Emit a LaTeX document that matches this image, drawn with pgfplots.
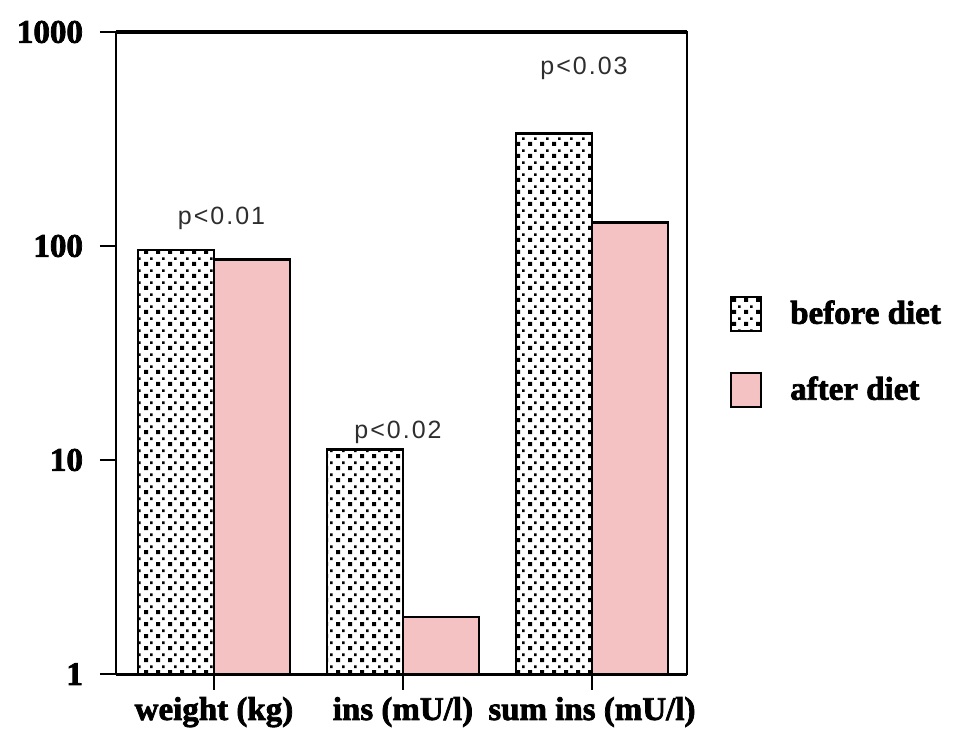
\documentclass[border=0pt]{standalone}
\usepackage{fontspec}
\usepackage{pgfplots}
\pgfplotsset{compat=1.18}
\usetikzlibrary{patterns}
\newfontfamily\hv{Liberation Serif}[UprightFont=* Bold, FakeBold=2.2]
\newfontfamily\psans{Liberation Sans}[LetterSpace=8]
\definecolor{pinkbar}{HTML}{F4C2C2}
\definecolor{ptext}{HTML}{2E2E2E}
\pgfdeclarepatternformonly{mydots}{\pgfqpoint{-0.1pt}{-0.1pt}}{\pgfqpoint{6.1pt}{6.1pt}}{\pgfqpoint{6pt}{6pt}}{%
 \pgfpathrectangle{\pgfqpoint{0pt}{0pt}}{\pgfqpoint{2pt}{2pt}}%
 \pgfpathrectangle{\pgfqpoint{3pt}{3pt}}{\pgfqpoint{1.3pt}{1.3pt}}%
 \pgfusepath{fill}}
\pgfplotsset{boxlegend/.style={legend image code/.code={\draw[##1, line width=1pt] (0pt,-8.5pt) rectangle (15pt,8.5pt);}}}
\newcommand\lab{\hv\fontsize{16.5}{19}\selectfont}
\begin{document}
\begin{tikzpicture}
\begin{axis}[
  name=ax,
  scale only axis,
  width=285.5pt, height=321pt,
  ymode=log, log basis y=10,
  ymin=1, ymax=1000,
  xmin=-0.5185, xmax=2.503,
  ytick={1,10,100,1000},
  yticklabels={1,10,100,1000},
  yminorticks=false,
  xtick={0,1,2},
  xticklabels={weight (kg),ins (mU/l),sum ins (mU/l)},
  xtick pos=bottom, ytick pos=left,
  tick align=outside,
  major tick length=8pt,
  tick style={black, line width=0.8pt},
  axis line style={line width=1pt},
  ticklabel style={font=\lab},
  yticklabel style={xshift=-5pt},
  /pgf/number format/assume math mode=true,
  legend style={at={(1.075,0.59)}, anchor=north west, draw=none, fill=none,
    font=\lab, row sep=20pt, inner sep=0pt, legend cell align=left,
    /tikz/every odd column/.append style={column sep=12pt}},
  clip=false,
]
\addplot[ybar, bar width=38pt, bar shift=-19pt, draw=black, line width=1.2pt,
  pattern=mydots, pattern color=black, boxlegend]
  coordinates {(0,96) (1,11.2) (2,336)};
\addlegendentry{before diet}
\addplot[ybar, bar width=38pt, bar shift=19pt, draw=black, line width=1.2pt,
  fill=pinkbar, boxlegend]
  coordinates {(0,86.5) (1,1.85) (2,129)};
\addlegendentry{after diet}
\draw[line width=2pt] (rel axis cs:0,1) -- (rel axis cs:1,1);
\draw[line width=1.5pt] (rel axis cs:0,0) -- (rel axis cs:1,0);
\node[font=\psans\fontsize{12.5}{14}\selectfont, text=ptext] at (axis cs:0.04,135) {p<0.01};
\node[font=\psans\fontsize{12.5}{14}\selectfont, text=ptext] at (axis cs:0.974,13.4) {p<0.02};
\node[font=\psans\fontsize{12.5}{14}\selectfont, text=ptext] at (axis cs:1.958,679) {p<0.03};
\end{axis}
\pgfresetboundingbox
\path[use as bounding box] ([xshift=-58pt,yshift=-30pt]ax.south west) rectangle ([xshift=135pt,yshift=16pt]ax.north east);
\end{tikzpicture}
\end{document}
